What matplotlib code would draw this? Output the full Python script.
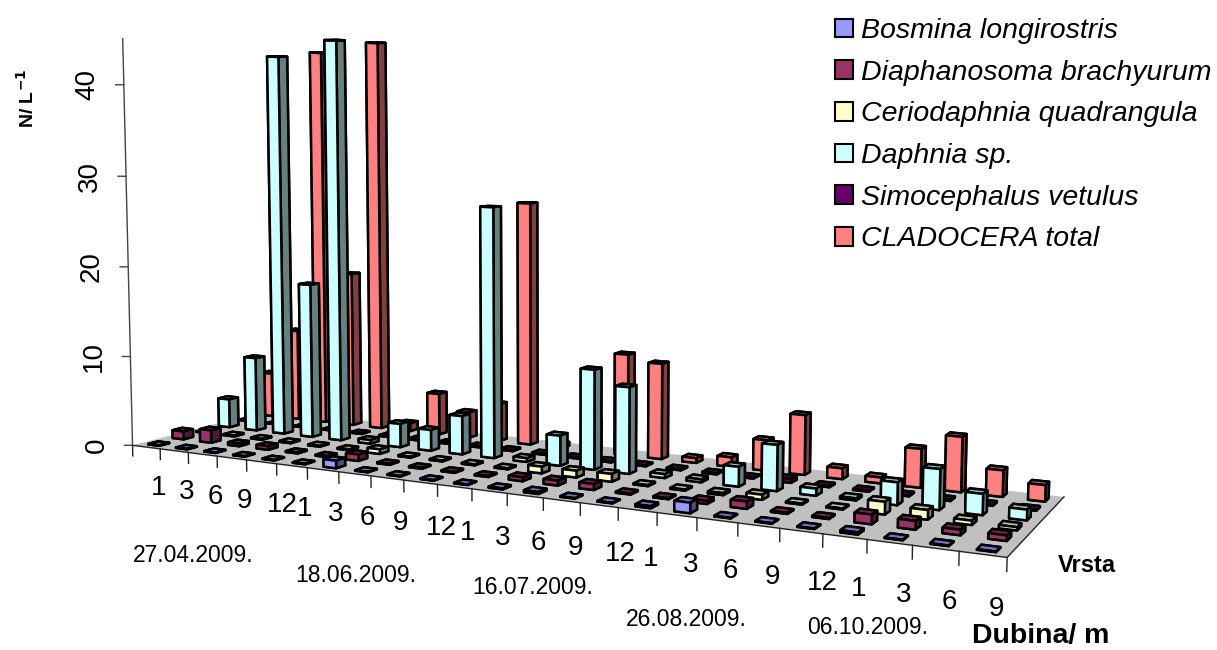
import matplotlib
matplotlib.use("Agg")
import matplotlib.pyplot as plt
from matplotlib.colors import to_rgb
from matplotlib.patches import Patch
from mpl_toolkits.mplot3d import proj3d
from mpl_toolkits.mplot3d.art3d import Poly3DCollection

plt.rcParams['font.family'] = ['Liberation Sans', 'DejaVu Sans']

# depth categories along the front edge, grouped per sampling date
depths = [1, 3, 6, 9, 12, 1, 3, 6, 9, 12, 1, 3, 6, 9, 12, 1, 3, 6, 9, 12, 1, 3, 6, 9]
dates = ['27.04.2009.', '18.06.2009.', '16.07.2009.', '26.08.2009.', '06.10.2009.']
z_ticks = [0, 10, 20, 30, 40]

species = ['Bosmina longirostris', 'Diaphanosoma brachyurum', 'Ceriodaphnia quadrangula',
           'Daphnia sp.', 'Simocephalus vetulus', 'CLADOCERA total']
colors = ['#9999FF', '#993366', '#FFFFCC', '#CCFFFF', '#660066', '#FF8080']

bosmina = [.05, .05, .05, .05, .05, .05, .8, .05, .05, .05, .05, .1, .2, .05, .05, .2, 1.0, .05, .05, .05, .2, .05, .05, .05]
diaphanosoma = [.9, 1.4, .3, .4, .1, .1, .7, .1, .1, .1, .1, .4, .5, .6, .1, .1, .3, .7, .1, .1, .9, .8, .5, .5]
ceriodaphnia = [.05, .1, .1, .1, .1, .1, .5, .1, .1, .1, .1, .7, .7, .8, .1, .1, .2, .5, .1, .1, 1.2, .9, .4, .3]
daphnia = [3.3, 8.5, 43.3, 17.5, 45, .4, 2.6, 2.3, 4.2, 27, .4, 3.2, 10.5, 9, .4, .3, 2, 4.6, .7, .2, 2.2, 3.9, 2, 1]
simocephalus = [.1, .05, .05, .05, .05, .1, .1, .1, .1, .1, .1, .1, .1, .1, .1, .1, .1, .4, .1, .1, .1, .1, .1, .1]
cladocera = [5.2, 10.7, 44, 18, 45, .9, 4.7, 2.9, 4.2, 27, .4, 3.3, 11, 10.3, .5, 1, 3.2, 6.2, 1.1, .6, 3.9, 5.5, 2.6, 1.6]
rows = [bosmina, diaphanosoma, ceriodaphnia, daphnia, simocephalus, cladocera]

W, H = 1217, 650
S = 1030          # side of the square 3d axes, px
cx, cy = 565, 254  # where the box centre lands, px from top left
BAR = 0.4

# the date captions sit unevenly in the original, px from top left
date_px = [(193, 555), (356, 575), (533, 587), (686, 620), (868, 628)]

fig = plt.figure(figsize=(W / 100, H / 100), dpi=100)
ax = fig.add_axes([(cx - 0.5135 * S) / W, (H - cy - 0.5135 * S) / H, S / W, S / H],
                  projection='3d', computed_zorder=False)
ax.set_proj_type('persp', focal_length=0.29)
ax.view_init(elev=5.1, azim=-62)
ax.set_xlim(0, 24)
ax.set_ylim(0, 6)
ax.set_zlim(0, 45)
ax.set_box_aspect((2.53, 0.63, 1.18), zoom=1)
ax.set_axis_off()


def shade(c, f):
    return tuple(v * f for v in to_rgb(c))


def label(x, y, z, s, **kw):
    # 3d position, but placed as a plain 2d text
    X, Y, _ = proj3d.proj_transform(x, y, z, ax.get_proj())
    ax.text2D(X, Y, s, transform=ax.transData, va='center', **kw)


floor = [[(0, 0, 0), (24, 0, 0), (24, 6, 0), (0, 6, 0)]]
ax.add_collection3d(Poly3DCollection(floor, facecolor='#C0C0C0', edgecolor='none', zorder=1))
ax.plot([0, 24, 24], [0, 0, 6], [0, 0, 0], color='#222222', lw=1, zorder=2)

# back row first, the way the spreadsheet paints them
zo = 10
for s in range(5, -1, -1):
    c = colors[s]
    faces = [shade(c, .5), shade(c, .75), c, shade(c, .5), shade(c, .5), shade(c, .5)]
    for i, val in enumerate(rows[s]):
        ax.bar3d(i + .5 - BAR / 2, s + .5 - BAR / 2, 0, BAR, BAR, val, color=faces,
                 shade=False, edgecolor='black', linewidth=1.8, zorder=zo)
        zo += 1

# axes are drawn by hand since the 3d panes are off
ax.plot([0, 0], [0, 0], [0, 45], color='#444444', lw=1, zorder=zo)
for z in z_ticks:
    ax.plot([-.2, 0], [-.1, 0], [z, z], color='#444444', lw=1, zorder=zo)
    label(-.9, -.45, z, str(z), rotation=90, ha='center', fontsize=20)
for i in range(25):
    ax.plot([i, i], [0, 0], [0, -1.2], color='#222222', lw=1, zorder=zo)
for i, d in enumerate(depths):
    label(i + .65, 0, -4.6, str(d), ha='left', fontsize=20)
for (px, py), d in zip(date_px, dates):
    fig.text(px / W, 1 - py / H, d, ha='center', va='center', fontsize=16.5)

fig.text(27 / W, 1 - 98 / H, 'N/ L$^{\\mathbf{-1}}$', rotation=90, ha='center', va='center',
         fontsize=14, fontweight='bold')
fig.text(1087 / W, 1 - 566 / H, 'Vrsta', ha='center', va='center', fontsize=17, fontweight='bold')
fig.text(1041 / W, 1 - 636 / H, 'Dubina/ m', ha='center', va='center', fontsize=20.5, fontweight='bold')

handles = [Patch(facecolor=c, edgecolor='black', linewidth=1.5) for c in colors]
fig.legend(handles, species, loc='upper left', bbox_to_anchor=(835 / W, 1 - 18 / H), frameon=False,
           prop={'style': 'italic', 'size': 20.5}, handlelength=.63, handleheight=.63,
           handletextpad=.28, labelspacing=.55, borderaxespad=0, borderpad=0)

fig.savefig('out.png', dpi=100)
